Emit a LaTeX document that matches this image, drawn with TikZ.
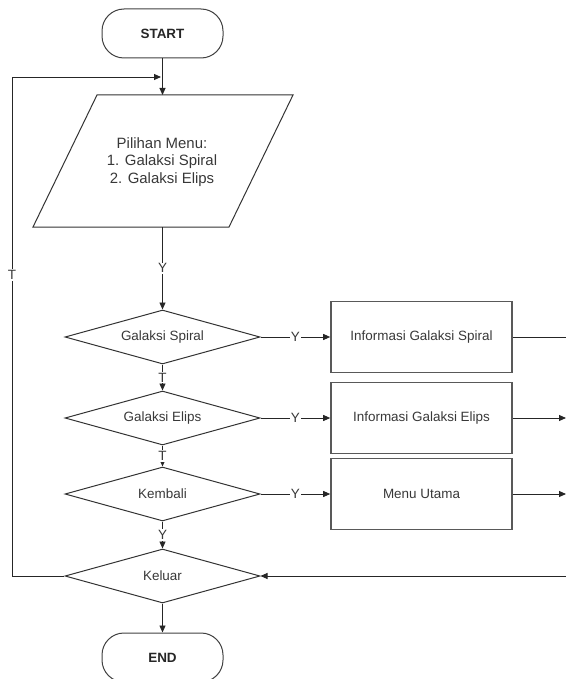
\documentclass[tikz,border=0pt]{standalone}
\usepackage{fontspec}
\setmainfont{Liberation Sans}
\usetikzlibrary{shapes.geometric,arrows.meta}
\begin{document}
\begin{tikzpicture}[x=1bp,y=-1bp,
  line/.style={line width=0.9bp, draw=black!85},
  arr/.style={line, -{Triangle[length=7bp,width=6bp]}},
  txt/.style={font=\fontsize{13.5}{16}\selectfont, text=black!78},
  term/.style={draw=black!75, line width=1bp, rounded corners=22bp, minimum width=121bp, minimum height=49bp, font=\bfseries\fontsize{13.5}{16}\selectfont, text=black!85},
  dec/.style={diamond, aspect=3.6, draw=black!80, line width=1bp, minimum width=195bp, minimum height=54bp, inner sep=0pt, txt},
  proc/.style={rectangle, draw=black!65, line width=1.6bp, minimum width=181bp, minimum height=71bp, txt},
  lbl/.style={fill=white, inner sep=1bp, txt}
]
\useasboundingbox (0,0) rectangle (566,679);
% terminals
\node[term] (start) at (162.5,33.5) {START};
\node[term] (end) at (162.5,657.5) {END};
% input / output parallelogram
\draw[draw=black!80, line width=1bp] (97,95) -- (293,95) -- (229,227) -- (33,227) -- cycle;
\node[txt, align=center, font=\fontsize{15}{17.5}\selectfont] (menu) at (162,162) {Pilihan Menu:\\1. Galaksi Spiral\\2. Galaksi Elips};
\coordinate (mtop) at (162.5,95);
\coordinate (mbot) at (162.5,227);
% decisions
\node[dec] (spiral) at (162.5,337) {Galaksi Spiral};
\node[dec] (elips) at (162.5,418) {Galaksi Elips};
\node[dec] (kembali) at (162.5,494) {Kembali};
\node[dec] (keluar) at (162.5,576) {Keluar};
% processes
\node[proc] (info1) at (421.5,337) {Informasi Galaksi Spiral};
\node[proc] (info2) at (421.5,418) {Informasi Galaksi Elips};
\node[proc] (menuu) at (421.5,494) {Menu Utama};
% coordinates
\coordinate (lc1) at (12,576);
\coordinate (lc2) at (12,77);
\coordinate (lend) at (161,77);
\coordinate (r1) at (566,337);
\coordinate (r2) at (566,418);
\coordinate (r3) at (566,494);
\coordinate (r4) at (566,576);
% connectors
\draw[arr] (start) -- (mtop);
\draw[arr] (mbot) -- node[lbl]{Y} (spiral);
\draw[arr] (spiral) -- node[lbl]{T} (elips);
\draw[arr] (elips) -- node[lbl]{T} (kembali);
\draw[arr] (kembali) -- node[lbl]{Y} (keluar);
\draw[arr] (keluar) -- (end);
\draw[arr] (spiral) -- node[lbl]{Y} (info1);
\draw[arr] (elips) -- node[lbl]{Y} (info2);
\draw[arr] (kembali) -- node[lbl]{Y} (menuu);
\draw[line] (info1) -- (r1);
\draw[arr] (info2) -- (r2);
\draw[arr] (menuu) -- (r3);
\draw[arr] (r4) -- (keluar);
\draw[arr] (keluar.west) -- (lc1) -- node[lbl, pos=0.603]{T} (lc2) -- (lend);
\end{tikzpicture}
\end{document}
